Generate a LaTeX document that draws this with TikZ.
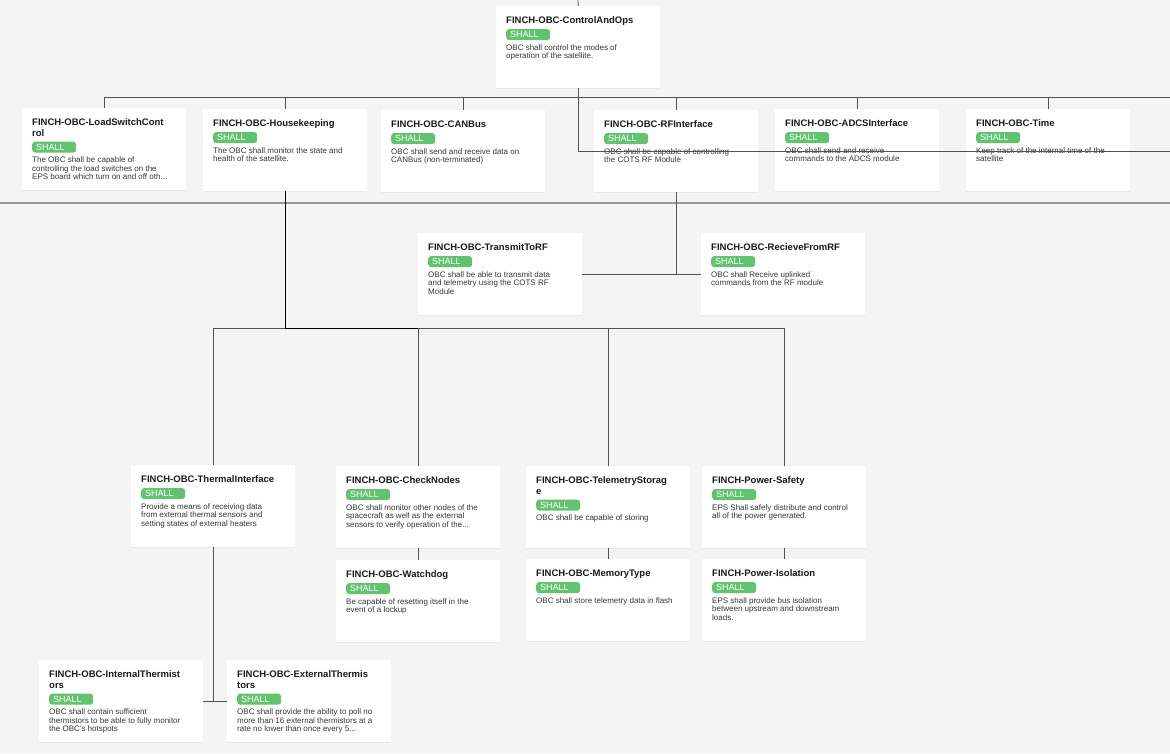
\documentclass[tikz,border=0pt]{standalone}
\usepackage{fontspec}
\setmainfont{Liberation Sans}
\usetikzlibrary{positioning,shadows}
\definecolor{canvasgray}{RGB}{244,244,244}
\definecolor{shallgreen}{RGB}{98,194,112}
\definecolor{titleink}{RGB}{26,26,26}
\definecolor{descink}{RGB}{55,55,55}
\pgfdeclarelayer{canvas}
\pgfdeclarelayer{wires}
\pgfsetlayers{canvas,wires,main}
\newcommand{\req}[5]{%
  \node[card] (#1) at (#2,#3) {};
  \node[rtitle] (#1t) at ([xshift=10pt,yshift=-10pt]#1.north west) {\strut#4\strut};
  \node[badge, below=2pt of #1t.south west, anchor=north west] (#1b) {SHALL};
  \node[rdesc, below=4pt of #1b.south west, anchor=north west] (#1d) {\strut#5};
}

\begin{document}
\begin{tikzpicture}[x=1pt,y=-1pt,
  card/.style={fill=white, anchor=north west, inner sep=0pt, minimum width=164pt, minimum height=82pt,
    drop shadow={shadow xshift=0pt, shadow yshift=-1pt, opacity=0.10}},
  rtitle/.style={anchor=north west, inner sep=0pt, align=left, text=titleink,
    font=\fontsize{9.5}{10.5}\selectfont\bfseries},
  badge/.style={fill=shallgreen, rounded corners=3pt, text=white, font=\fontsize{9}{9}\selectfont,
    text width=36pt, align=left, inner xsep=4pt, inner ysep=0pt, minimum height=11pt,
    text height=6.5pt, text depth=0pt},
  rdesc/.style={anchor=north west, inner sep=0pt, align=left, text=descink,
    font=\fontsize{8}{8.4}\selectfont},
  wire/.style={draw=black!68, line width=0.8pt},
  hkwire/.style={draw=black, line width=1.3pt},
  rule/.style={draw=black!40, line width=1.3pt}]

\begin{pgfonlayer}{canvas}
\fill[canvasgray] (0,0) rectangle (1170,753);
\end{pgfonlayer}
\useasboundingbox (0,0) rectangle (1170,753);

\req{ctrl}{496}{6}{FINCH-OBC-ControlAndOps}{OBC shall control the modes of\\operation of the satellite.}

\req{lsw}{22}{108}{FINCH-OBC-LoadSwitchCont\\rol}{The OBC shall be capable of\\controlling the load switches on the\\EPS board which turn on and off oth...}
\req{hk}{203}{109}{FINCH-OBC-Housekeeping}{The OBC shall monitor the state and\\health of the satellite.}
\req{can}{381}{110}{FINCH-OBC-CANBus}{OBC shall send and receive data on\\CANBus (non-terminated)}
\req{rf}{594}{110}{FINCH-OBC-RFInterface}{OBC shall be capable of controlling\\the COTS RF Module}
\req{adcs}{775}{109}{FINCH-OBC-ADCSInterface}{OBC shall send and receive\\commands to the ADCS module}
\req{time}{966}{109}{FINCH-OBC-Time}{Keep track of the internal time of the\\satellite}

\req{tx}{418}{233}{FINCH-OBC-TransmitToRF}{OBC shall be able to transmit data\\and telemetry using the COTS RF\\Module}
\req{rx}{701}{233}{FINCH-OBC-RecieveFromRF}{OBC shall Receive uplinked\\commands from the RF module}

\req{therm}{131}{465}{FINCH-OBC-ThermalInterface}{Provide a means of receiving data\\from external thermal sensors and\\setting states of external heaters}
\req{chk}{336}{466}{FINCH-OBC-CheckNodes}{OBC shall monitor other nodes of the\\spacecraft as well as the external\\sensors to verify operation of the...}
\req{tlm}{526}{466}{FINCH-OBC-TelemetryStorag\\e}{OBC shall be capable of storing}
\req{pws}{702}{466}{FINCH-Power-Safety}{EPS Shall safely distribute and control\\all of the power generated.}

\req{wd}{336}{560}{FINCH-OBC-Watchdog}{Be capable of resetting itself in the\\event of a lockup}
\req{mem}{526}{559}{FINCH-OBC-MemoryType}{OBC shall store telemetry data in flash}
\req{pwi}{702}{559}{FINCH-Power-Isolation}{EPS shall provide bus isolation\\between upstream and downstream\\loads.}

\req{ith}{39}{660}{FINCH-OBC-InternalThermist\\ors}{OBC shall contain sufficient\\thermistors to be able to fully monitor\\the OBC's hotspots}
\req{eth}{227}{660}{FINCH-OBC-ExternalThermis\\tors}{OBC shall provide the ability to poll no\\more than 16 external thermistors at a\\rate no lower than once every 5...}

\coordinate (topedge) at (578,0);
\coordinate (busend) at (1170,97);
\coordinate (ctrlend) at (1170,151);
\coordinate (ruleleft) at (0,203);
\coordinate (ruleright) at (1170,203);
\path (hk.south) ++(0,137) coordinate (hkbus);

\begin{pgfonlayer}{wires}
\draw[wire] (topedge) -- (ctrl.north);
\draw[wire] (lsw.north) |- (busend);
\foreach \n in {hk,can,rf,adcs,time}
  \draw[wire] (\n.north) -- (\n.north |- busend);
\draw[rule] (ruleleft) -- (ruleright);
\draw[wire] (rf.south) -- (rf.south |- rx.west);
\draw[wire] (tx.east) -- (rx.west);
\draw[wire] (therm.north) |- (pws.north |- hkbus) -- (pws.north);
\foreach \n in {chk,tlm}
  \draw[wire] (\n.north) -- (\n.north |- hkbus);
\draw[hkwire] (hk.south) |- (chk.north |- hkbus);
\draw[wire] (chk.south) -- (wd.north);
\draw[wire] (tlm.south) -- (mem.north);
\draw[wire] (pws.south) -- (pwi.north);
\draw[wire] (therm.south) -- (therm.south |- ith.east);
\draw[wire] (ith.east) -- (eth.west);
\end{pgfonlayer}

\draw[wire] (ctrl.south) |- (ctrlend);
\end{tikzpicture}
\end{document}
